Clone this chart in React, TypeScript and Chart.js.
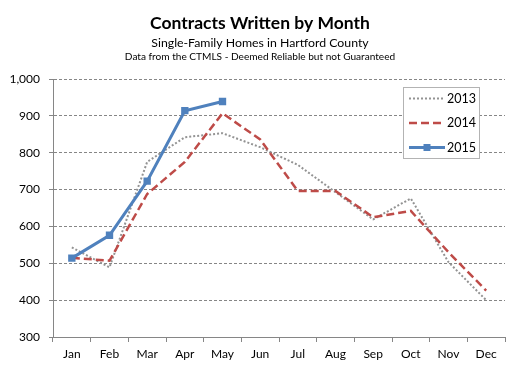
import React, { useEffect, useRef } from "react";
import { Chart, registerables } from "chart.js";

Chart.register(...registerables);

const months = ["Jan", "Feb", "Mar", "Apr", "May", "Jun", "Jul", "Aug", "Sep", "Oct", "Nov", "Dec"];
const values2013 = [543, 489, 775, 842, 853, 815, 767, 693, 619, 676, 503, 400];
const values2014 = [515, 507, 688, 775, 907, 836, 696, 696, 625, 642, 530, 426];
const values2015: (number | null)[] = [514, 576, 723, 914, 939, null, null, null, null, null, null, null];
const titleLines = [
  "Contracts Written by Month",
  "Single-Family Homes in Hartford County",
  "Data from the CTMLS - Deemed Reliable but not Guaranteed",
];
const seriesNames = ["2013", "2014", "2015"];

const FONT = "Lato, 'Open Sans', sans-serif";
const GRAY = "#939393";
const RED = "#be4b48";
const BLUE = "#4f81bd";
const AXIS = "#868686";

const titlePlugin = {
  id: "titles",
  afterDraw(chart: any) {
    const ctx = chart.ctx;
    ctx.save();
    ctx.fillStyle = "#000";
    ctx.textAlign = "center";
    ctx.textBaseline = "middle";
    ctx.font = `bold 17.5px ${FONT}`;
    ctx.fillText(titleLines[0], 260, 23);
    ctx.font = `12.3px ${FONT}`;
    ctx.fillText(titleLines[1], 260, 43);
    ctx.font = `10.1px ${FONT}`;
    ctx.fillText(titleLines[2], 260, 57);
    ctx.restore();
  },
};

const legendPlugin = {
  id: "boxLegend",
  afterDraw(chart: any) {
    const ctx = chart.ctx;
    ctx.save();
    ctx.fillStyle = "#fff";
    ctx.fillRect(403.5, 87.5, 76, 71);
    ctx.strokeStyle = "#b3b3b3";
    ctx.lineWidth = 1;
    ctx.strokeRect(403.5, 87.5, 76, 71);
    const ys = [98.5, 123, 147.5];
    const styles = [
      { color: GRAY, width: 2, dash: [2, 2] },
      { color: RED, width: 2.5, dash: [8, 4] },
      { color: BLUE, width: 3, dash: [] as number[] },
    ];
    ys.forEach((y, i) => {
      const s = styles[i];
      ctx.strokeStyle = s.color;
      ctx.lineWidth = s.width;
      ctx.setLineDash(s.dash);
      ctx.beginPath();
      ctx.moveTo(409, y);
      ctx.lineTo(445, y);
      ctx.stroke();
      ctx.setLineDash([]);
      if (i === 2) {
        ctx.fillStyle = BLUE;
        ctx.fillRect(423.5, y - 3.5, 7, 7);
      }
      ctx.fillStyle = "#000";
      ctx.font = `12.5px ${FONT}`;
      ctx.textAlign = "left";
      ctx.textBaseline = "middle";
      ctx.fillText(seriesNames[i], 447, y);
    });
    ctx.restore();
  },
};

export default function App() {
  const ref = useRef<HTMLCanvasElement>(null);
  useEffect(() => {
    if (!ref.current) return;
    const chart = new Chart(ref.current, {
      type: "line",
      data: {
        labels: months,
        datasets: [
          {
            label: seriesNames[0],
            data: values2013,
            borderColor: GRAY,
            borderWidth: 2,
            borderDash: [2, 2],
            pointRadius: 0,
            tension: 0,
            order: 2,
          },
          {
            label: seriesNames[1],
            data: values2014,
            borderColor: RED,
            borderWidth: 2.5,
            borderDash: [8, 4],
            pointRadius: 0,
            tension: 0,
            order: 1,
          },
          {
            label: seriesNames[2],
            data: values2015,
            borderColor: BLUE,
            backgroundColor: BLUE,
            borderWidth: 3,
            pointStyle: "rect",
            pointRadius: 5.2,
            pointBorderWidth: 0,
            pointBackgroundColor: BLUE,
            tension: 0,
            spanGaps: false,
            order: 0,
          },
        ],
      },
      options: {
        responsive: false,
        animation: false,
        layout: { padding: { top: 79, right: 16, left: 0, bottom: 0 } },
        plugins: {
          legend: { display: false },
          title: { display: false },
          tooltip: { enabled: false },
        },
        scales: {
          x: {
            offset: true,
            grid: {
              display: true,
              drawOnChartArea: false,
              drawTicks: true,
              tickLength: 5,
              color: AXIS,
              offset: true,
            },
            border: { display: true, color: AXIS, width: 1 },
            ticks: {
              color: "#000",
              font: { family: FONT, size: 12 },
              padding: 5,
              maxRotation: 0,
            },
            afterFit(s: any) {
              s.height = 34;
            },
          },
          y: {
            min: 300,
            max: 1000,
            ticks: {
              stepSize: 100,
              color: "#000",
              font: { family: FONT, size: 12 },
              padding: 9,
              callback: (v: any) => Number(v).toLocaleString("en-US"),
            },
            grid: {
              color: AXIS,
              lineWidth: 1,
              tickLength: 4,
            },
            border: { display: true, color: AXIS, width: 1, dash: [3, 2] },
            afterFit(s: any) {
              s.width = 53;
            },
          },
        },
      },
      plugins: [titlePlugin, legendPlugin],
    });
    return () => chart.destroy();
  }, []);
  return (
    <div style={{ position: "fixed", left: 0, top: 0, width: 521, height: 371, background: "#fff" }}>
      <canvas ref={ref} width={521} height={371} style={{ display: "block" }} />
    </div>
  );
}
